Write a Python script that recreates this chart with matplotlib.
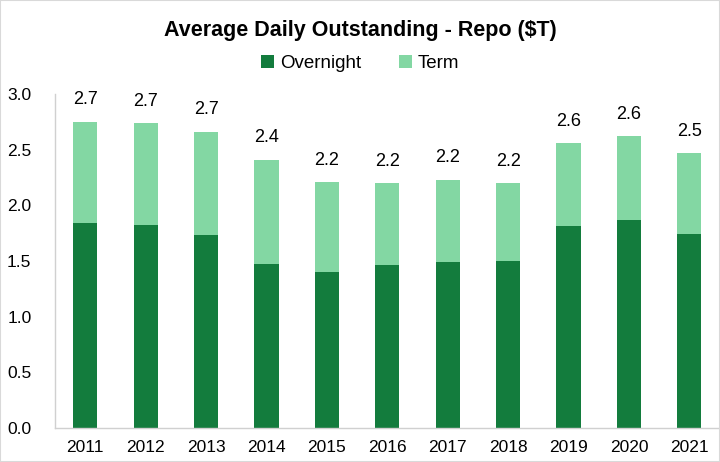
import matplotlib.pyplot as plt
import numpy as np

plt.rcParams['font.family'] = ['Liberation Sans', 'DejaVu Sans']

# data
years = ['2011', '2012', '2013', '2014', '2015', '2016', '2017', '2018', '2019', '2020', '2021']
overnight = [1.84, 1.82, 1.73, 1.47, 1.40, 1.46, 1.49, 1.50, 1.81, 1.87, 1.74]
total = [2.75, 2.74, 2.66, 2.41, 2.21, 2.20, 2.23, 2.20, 2.56, 2.62, 2.47]
total_labels = ['2.7', '2.7', '2.7', '2.4', '2.2', '2.2', '2.2', '2.2', '2.6', '2.6', '2.5']
term = [t - o for t, o in zip(total, overnight)]

dark = '#137C3D'
light = '#83D7A3'

fig = plt.figure(figsize=(7.2, 4.62), dpi=100)
fig.patches.append(plt.Rectangle((0, 0), 1, 1, transform=fig.transFigure,
                                 fill=False, edgecolor='#D9D9D9', lw=1.5))
ax = fig.add_axes([0.0764, 0.0736, 0.923, 0.723])

x = np.arange(len(years))
ax.bar(x, overnight, width=0.4, color=dark, label='Overnight')
ax.bar(x, term, width=0.4, bottom=overnight, color=light, label='Term')

for xi, t, lab in zip(x, total, total_labels):
    ax.text(xi, t + 0.12, lab, ha='center', va='bottom', fontsize=13)

ax.set_xlim(-0.5, 10.5)
ax.set_ylim(0, 3.0)
ax.set_yticks(np.arange(0, 3.01, 0.5))
ax.set_yticklabels(['%.1f' % v for v in np.arange(0, 3.01, 0.5)])
ax.set_xticks(x)
ax.set_xticklabels(years)
ax.tick_params(axis='both', length=0, labelsize=12.5)
ax.tick_params(axis='y', pad=17)
ax.tick_params(axis='x', pad=9)

for s in ['top', 'right']:
    ax.spines[s].set_visible(False)
for s in ['left', 'bottom']:
    ax.spines[s].set_color('#D0D0D0')
    ax.spines[s].set_linewidth(1)

fig.text(0.5, 0.935, 'Average Daily Outstanding - Repo ($T)', ha='center', va='center',
         fontsize=15.5, fontweight='bold')
fig.legend(loc='center', bbox_to_anchor=(0.5, 0.862), ncol=2, frameon=False,
           fontsize=13.5, handlelength=0.7, handleheight=0.7, handletextpad=0.3,
           columnspacing=2.0)

fig.savefig('out.png', dpi=100)
